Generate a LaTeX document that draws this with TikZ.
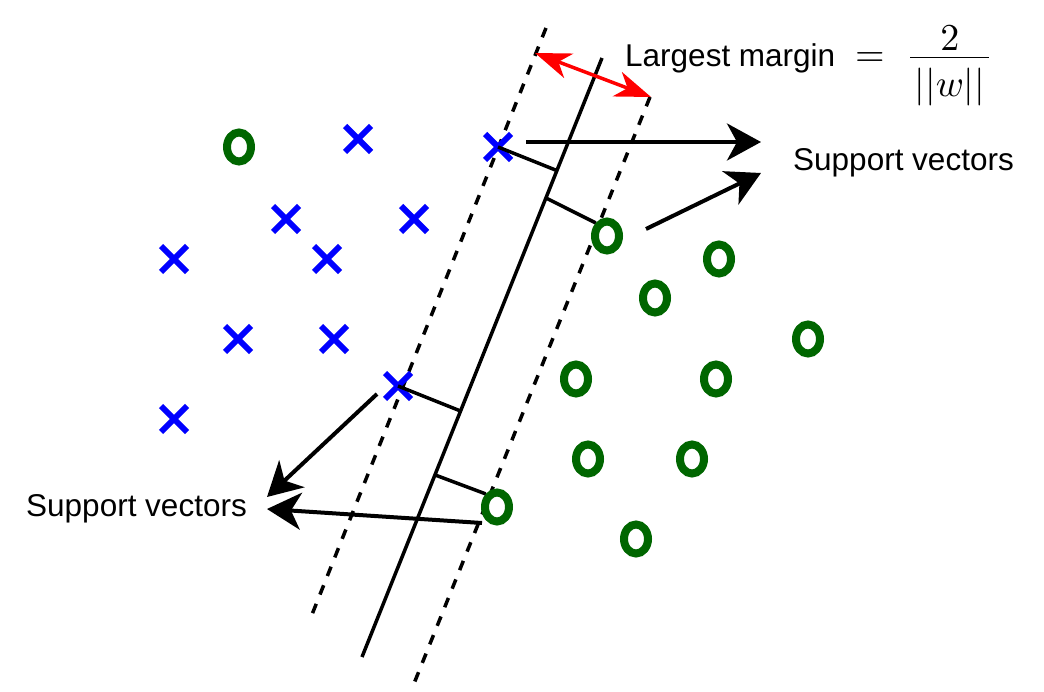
\documentclass[tikz,border=0pt]{standalone}
\usepackage{fontspec}
\newfontfamily\helv{Liberation Sans}
\usetikzlibrary{arrows.meta,shapes.misc,shapes.geometric,calc}
\definecolor{xblue}{RGB}{0,0,255}
\definecolor{ogreen}{RGB}{0,102,0}
\definecolor{mred}{RGB}{255,0,0}
\begin{document}
\begin{tikzpicture}[x=1pt,y=-1pt,
  xm/.style={cross out, draw=xblue, line width=6pt, minimum size=26pt, inner sep=0pt, outer sep=0pt},
  om/.style={ellipse, draw=ogreen, line width=8pt, minimum width=24pt, minimum height=29pt, inner sep=0pt},
  sepline/.style={line width=3.5pt},
  margline/.style={line width=3.5pt, dash pattern=on 10pt off 10pt},
  perp/.style={line width=3.5pt},
  ptr/.style={line width=4pt, -{Stealth[length=34pt,width=37pt,inset=10pt]}},
  marrow/.style={draw=mred, line width=3.5pt, {Stealth[length=36pt,width=26pt,inset=11pt]}-{Stealth[length=36pt,width=26pt,inset=11pt]}},
  lbl/.style={font=\helv\fontsize{31.5}{38}\selectfont, inner sep=0pt, anchor=base west}]
\useasboundingbox (0,0) rectangle (1044,692);

% separating line and margins
\coordinate (st) at (602,58);
\coordinate (sb) at (362,657);
\coordinate (lt) at (546,28);
\coordinate (lb) at (309,622);
\coordinate (rt) at (650,97);
\coordinate (rb) at (413,686);
\draw[sepline] (st) -- (sb);
\draw[margline] (lt) -- (lb);
\draw[margline] (rt) -- (rb);

% blue crosses
\node[xm] (x1) at (358,139) {};
\node[xm] (x2) at (498,147) {};
\node[xm] (x3) at (286,219) {};
\node[xm] (x4) at (414,219) {};
\node[xm] (x5) at (174,259) {};
\node[xm] (x6) at (327,259) {};
\node[xm] (x7) at (238,339) {};
\node[xm] (x8) at (334,339) {};
\node[xm] (x9) at (398,386) {};
\node[xm] (x10) at (174,419) {};

% green circles
\node[om] (o1) at (239,147) {};
\node[om] (o2) at (607,236) {};
\node[om] (o3) at (719,259) {};
\node[om] (o4) at (655,298) {};
\node[om] (o5) at (808,339) {};
\node[om] (o6) at (576,379) {};
\node[om] (o7) at (716,379) {};
\node[om] (o8) at (588,459) {};
\node[om] (o9) at (692,459) {};
\node[om] (o10) at (497,507) {};
\node[om] (o11) at (636,539) {};

% perpendiculars
\coordinate (f2) at ($(st)!0.2337!(sb)$);
\coordinate (f10) at ($(st)!0.696!(sb)$);
\draw[perp] (x2.center) -- ($(st)!(x2.center)!(sb)$);
\draw[perp] (f2) -- (o2.north west);
\draw[perp] (x9.center) -- ($(st)!(x9.center)!(sb)$);
\draw[perp] (f10) -- (o10.north west);

% margin arrow
\coordinate (m1) at (535,53);
\coordinate (m2) at (651,97);
\draw[marrow] (m1) -- (m2);

% texts
\node[lbl] (sv1) at (793,171) {Support vectors};
\node[lbl] (sv2) at (26,516) {Support vectors};
\node[lbl] (lm) at (625,67) {Largest margin};
\node[inner sep=0pt, anchor=base west, font=\fontsize{10}{12}\selectfont] (eq) at (855,67)
  {\scalebox{3.8}{$\displaystyle =\;\frac{\smash{\raisebox{-2.4pt}{$2$}}}{\smash{\raisebox{-0.8pt}{$\mkern2mu||w||\mkern2mu$}}}$}};

% pointer arrows
\coordinate (a1s) at (526,142);
\coordinate (a1e) at (761,142);
\coordinate (a2s) at (646,229);
\coordinate (a2e) at (761,173);
\coordinate (a3s) at (377,394);
\coordinate (a3e) at (267,497);
\coordinate (a4s) at (482,523);
\coordinate (a4e) at (267,509);
\draw[ptr] (a1s) -- (a1e);
\draw[ptr] (a2s) -- (a2e);
\draw[ptr] (a3s) -- (a3e);
\draw[ptr] (a4s) -- (a4e);
\end{tikzpicture}
\end{document}
